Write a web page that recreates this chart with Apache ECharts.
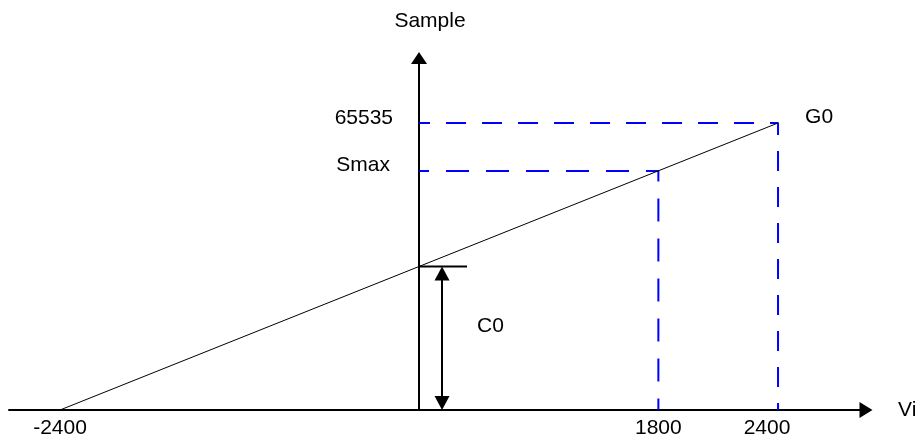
<!DOCTYPE html>
<html>
<head>
<meta charset="utf-8">
<script src="https://cdn.jsdelivr.net/npm/echarts@6/dist/echarts.min.js"></script>
<style>
html,body{margin:0;padding:0;background:#fff;}
#chart{width:917px;height:441px;}
</style>
</head>
<body>
<div id="chart"></div>
<script>
// ---- data (schematic transfer characteristic) ----
const viTicks = [-2400, 1600, 2400];          // Vi positions of the labelled ticks (as read on the drawn axis)
const viTickLabels = ['-2400', '1800', '2400'];
const sampleTicks = [54600, 65535];
const sampleTickLabels = ['Smax', '65535'];
const transferVi = [-2400, 2400];
const transferSample = [0, 65535];
const smaxPoint = [1600, 54600];
const fullPoint = [2400, 65535];
const c0Sample = 32768;
const gainLabel = 'G0';
const offsetLabel = 'C0';

const FONT = 'Liberation Sans, Arial, Helvetica, sans-serif';
const FS = 21;

const X_MIN = -2741, X_MAX = 2988;
const GRID_LEFT = 9, GRID_W = 857;

const chart = echarts.init(document.getElementById('chart'), null, {renderer: 'canvas'});

function tickLabel(values, labels, richFor) {
  return function (v) {
    for (let i = 0; i < values.length; i++) {
      if (Math.abs(values[i] - v) < 1e-6) {
        const key = richFor(labels[i]);
        return key ? '{' + key + '|' + labels[i] + '}' : labels[i];
      }
    }
    return '';
  };
}

// pixel offset that puts the Sample axis on Vi = 0
const yAxisShift = -(0 - X_MIN) / (X_MAX - X_MIN) * GRID_W;

const option = {
  animation: false,
  backgroundColor: '#ffffff',
  grid: {left: GRID_LEFT, top: 58, width: GRID_W, height: 352, containLabel: false, outerBoundsMode: 'none'},
  xAxis: {
    type: 'value', min: X_MIN, max: X_MAX,
    name: 'Vi', nameLocation: 'end', nameGap: 32,
    nameTextStyle: {fontFamily: FONT, fontSize: FS, color: '#000', padding: [0, 0, 11, 0]},
    axisLine: {show: true, onZero: true, symbol: ['none', 'triangle'], symbolSize: [16, 13],
      lineStyle: {color: '#000', width: 2}},
    axisTick: {show: false},
    splitLine: {show: false},
    axisLabel: {
      show: true, customValues: viTicks, margin: 8,
      fontFamily: FONT, fontSize: FS, color: '#000',
      formatter: tickLabel(viTicks, viTickLabels, l => l === '2400' ? 'shift' : null),
      rich: {shift: {fontFamily: FONT, fontSize: FS, color: '#000', padding: [0, 22, 0, 0]}}
    }
  },
  yAxis: {
    type: 'value', min: 0, max: 80377, position: 'left', offset: yAxisShift,
    name: 'Sample', nameLocation: 'end', nameGap: 26,
    nameTextStyle: {fontFamily: FONT, fontSize: FS, color: '#000', padding: [0, 0, 0, 22]},
    axisLine: {show: true, onZero: false, symbol: ['none', 'triangle'], symbolSize: [16, 12],
      lineStyle: {color: '#000', width: 2}},
    axisTick: {show: false},
    splitLine: {show: false},
    axisLabel: {
      show: true, customValues: sampleTicks, margin: 26,
      fontFamily: FONT, fontSize: FS, color: '#000',
      formatter: tickLabel(sampleTicks, sampleTickLabels, l => l === 'Smax' ? 'smax' : 'num'),
      rich: {
        smax: {fontFamily: FONT, fontSize: FS, color: '#000', padding: [0, 3, 11, 0]},
        num: {fontFamily: FONT, fontSize: FS, color: '#000', padding: [0, 0, 10, 0]}
      }
    }
  },
  series: [
    {
      type: 'line', name: 'transfer', showSymbol: false, silent: true,
      data: transferVi.map((v, i) => [v, transferSample[i]]),
      lineStyle: {color: '#000', width: 1}, z: 3
    },
    {
      type: 'line', name: 'full', showSymbol: false, silent: true,
      data: [[0, fullPoint[1]], [fullPoint[0], fullPoint[1]], [fullPoint[0], 0]],
      lineStyle: {color: '#0000ff', width: 2, type: [20, 16], dashOffset: 9}, z: 2
    },
    {
      type: 'line', name: 'smax', showSymbol: false, silent: true,
      data: [[0, smaxPoint[1]], [smaxPoint[0], smaxPoint[1]], [smaxPoint[0], 0]],
      lineStyle: {color: '#0000ff', width: 2, type: [23, 17], dashOffset: 13}, z: 2
    },
    {
      type: 'custom', name: 'annotations', silent: true, clip: false, z: 4,
      data: [0],
      renderItem: function (params, api) {
        const p0 = api.coord([0, c0Sample]);
        const pBase = api.coord([0, 0]);
        const pEnd = api.coord(fullPoint);
        const ax = p0[0] + 23;
        const tipTop = p0[1], tipBot = pBase[1];
        const hw = 7.5, hh = 14;
        return {
          type: 'group',
          children: [
            {type: 'line', shape: {x1: p0[0], y1: p0[1], x2: p0[0] + 48, y2: p0[1]},
              style: {stroke: '#000', lineWidth: 2}},
            {type: 'line', shape: {x1: ax, y1: tipTop + hh - 1, x2: ax, y2: tipBot - hh + 1},
              style: {stroke: '#000', lineWidth: 2}},
            {type: 'polygon', shape: {points: [[ax, tipTop], [ax - hw, tipTop + hh], [ax + hw, tipTop + hh]]},
              style: {fill: '#000'}},
            {type: 'polygon', shape: {points: [[ax, tipBot], [ax - hw, tipBot - hh], [ax + hw, tipBot - hh]]},
              style: {fill: '#000'}},
            {type: 'text', x: p0[0] + 58, y: p0[1] + 60,
              style: {text: offsetLabel, font: FS + 'px ' + FONT, fill: '#000', textAlign: 'left', textVerticalAlign: 'middle'}},
            {type: 'text', x: pEnd[0] + 27, y: pEnd[1] - 5.5,
              style: {text: gainLabel, font: FS + 'px ' + FONT, fill: '#000', textAlign: 'left', textVerticalAlign: 'middle'}}
          ]
        };
      }
    }
  ]
};
chart.setOption(option);
</script>
</body>
</html>
